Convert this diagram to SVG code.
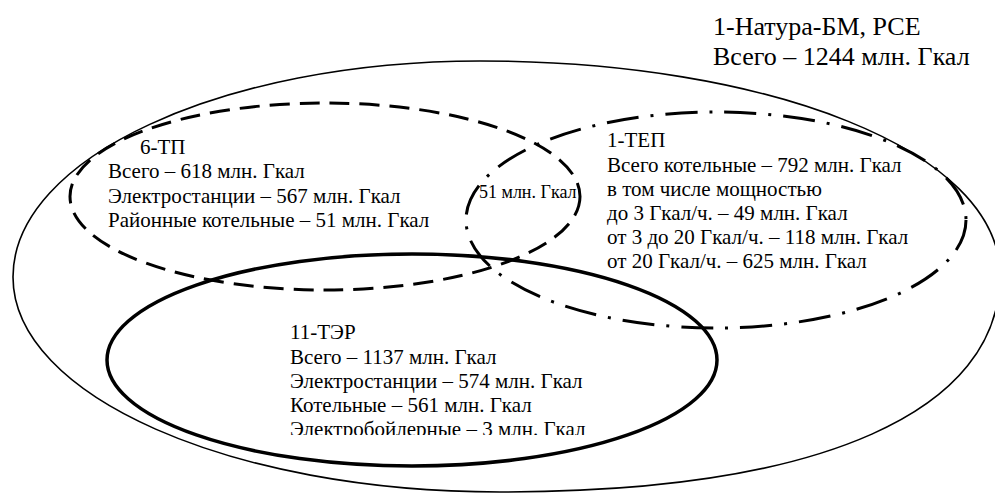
<svg xmlns="http://www.w3.org/2000/svg" width="995" height="493" viewBox="0 0 995 493">
<style>
text{font-family:"Liberation Serif","Times New Roman",serif;font-size:21px;fill:#000}
.big{font-size:26px}
.small{font-size:18px}
.e{fill:none;stroke:#000}
</style>
<defs>
<clipPath id="clipTer"><rect x="0" y="0" width="995" height="435"/></clipPath>
</defs>
<rect width="995" height="493" fill="#fff"/>
<g id="connectors"/>
<g id="rce">
<path class="e" stroke-width="1.6" d="M13,277 C13,158 222,61 480,61 C767,61 1000,150 1000,275 C1000,410 825,492 500,492 C231,492 13,396 13,277 Z"/>
<text class="big" x="713" y="35">1-Натура-БМ, РСЕ</text>
<text class="big" x="713" y="65">Всего – 1244 млн. Гкал</text>
</g>
<g id="tp6">
<ellipse class="e" cx="325" cy="196.5" rx="255" ry="93.5" stroke-width="3" stroke-dasharray="20 10"/>
<text x="140" y="154">6-ТП</text>
<text x="108" y="178">Всего – 618 млн. Гкал</text>
<text x="108" y="203">Электростанции – 567 млн. Гкал</text>
<text x="108" y="227">Районные котельные – 51 млн. Гкал</text>
</g>
<g id="tep1">
<ellipse class="e" cx="716" cy="220" rx="250" ry="108" stroke-width="3" stroke-dasharray="32 12 3 12"/>
<text x="607" y="147">1-ТЕП</text>
<text x="607" y="172">Всего котельные – 792 млн. Гкал</text>
<text x="607" y="196">в том числе мощностью</text>
<text x="607" y="220">до 3 Гкал/ч. – 49 млн. Гкал</text>
<text x="607" y="244">от 3 до 20 Гкал/ч. – 118 млн. Гкал</text>
<text x="607" y="268">от 20 Гкал/ч. – 625 млн. Гкал</text>
</g>
<g id="overlap">
<text class="small" x="479" y="198">51 млн. Гкал</text>
</g>
<g id="ter11">
<ellipse class="e" cx="412" cy="360" rx="305" ry="106" stroke-width="3.5"/>
<text x="290" y="339">11-ТЭР</text>
<text x="290" y="364">Всего – 1137 млн. Гкал</text>
<text x="290" y="388">Электростанции – 574 млн. Гкал</text>
<text x="290" y="412">Котельные – 561 млн. Гкал</text>
<text x="290" y="436" clip-path="url(#clipTer)">Электробойлерные – 3 млн. Гкал</text>
</g>
</svg>
